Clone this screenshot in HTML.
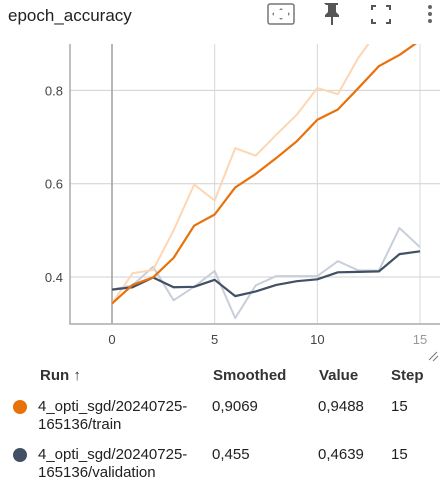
<!DOCTYPE html>
<html><head><meta charset="utf-8"><style>
body{margin:0;width:441px;height:484px;background:#fff;font-family:"Liberation Sans",sans-serif;overflow:hidden;position:relative;color:#212121}
.t{position:absolute;white-space:nowrap;font-size:15px;line-height:18px}
.h{font-weight:bold;color:#333}
</style></head><body>
<div class="t" style="left:8px;top:5px;font-size:17px;line-height:22px">epoch_accuracy</div>
<svg width="441" height="40" style="position:absolute;left:0;top:0">
<g><rect x="268" y="4" width="26" height="20" rx="2" fill="none" stroke="#777" stroke-width="1.5"/><path d="M281 8l-2 2h4zM281 20l-2-2h4zM272 14l2-2v4zM290 14l-2-2v4z" fill="#888"/></g>
<g><path d="M324 3h14v2h-2v7l3 3v2h-6v8h-2v-8h-6v-2l3-3v-7h-2z" fill="#555"/></g>
<g fill="none" stroke="#555" stroke-width="2"><path d="M372 10v-4h4M386 6h4v4M390 19v4h-4M376 23h-4v-4"/></g>
<g fill="#666"><circle cx="430" cy="7" r="2"/><circle cx="430" cy="14" r="2"/><circle cx="430" cy="21" r="2"/></g>
</svg>
<svg id="chart" width="441" height="370" style="position:absolute;left:0;top:0"></svg>
<svg width="441" height="484" style="position:absolute;left:0;top:0;pointer-events:none"><g stroke="#777" stroke-width="1"><path d="M429 360l8-8M433 361l5-5"/></g></svg>
<div class="t h" style="left:40px;top:367px">Run ↑</div>
<div class="t h" style="left:213px;top:367px">Smoothed</div>
<div class="t h" style="left:319px;top:367px">Value</div>
<div class="t h" style="left:391px;top:367px">Step</div>
<div style="position:absolute;left:13px;top:400px;width:14px;height:14px;border-radius:50%;background:#e8710a"></div>
<div class="t" style="left:38px;top:398px">4_opti_sgd/20240725-<br>165136/train</div>
<div class="t" style="left:212px;top:398px">0,9069</div>
<div class="t" style="left:318px;top:398px">0,9488</div>
<div class="t" style="left:391px;top:398px">15</div>
<div style="position:absolute;left:13px;top:448px;width:14px;height:14px;border-radius:50%;background:#425066"></div>
<div class="t" style="left:38px;top:446px">4_opti_sgd/20240725-<br>165136/validation</div>
<div class="t" style="left:212px;top:446px">0,455</div>
<div class="t" style="left:318px;top:446px">0,4639</div>
<div class="t" style="left:391px;top:446px">15</div>
<script>
const steps=[0,1,2,3,4,5,6,7,8,9,10,11,12,13,14,15];
const trainRaw=[0.343,0.408,0.415,0.50,0.598,0.564,0.676,0.66,0.705,0.748,0.805,0.792,0.87,0.93,0.97,0.9488];
const trainSmooth=[0.343,0.383,0.399,0.441,0.51,0.534,0.592,0.621,0.655,0.691,0.737,0.759,0.805,0.852,0.876,0.9069];
const valRaw=[0.373,0.382,0.422,0.35,0.379,0.413,0.312,0.382,0.402,0.402,0.402,0.434,0.414,0.414,0.505,0.4639];
const valSmooth=[0.373,0.378,0.399,0.378,0.379,0.394,0.359,0.369,0.383,0.391,0.395,0.41,0.411,0.412,0.449,0.455];
const xTicks=[0,5,10,15];
const yTicks=[0.4,0.6,0.8];
const L=70,R=440,T=44,B=324;
const xs=v=>112+v*(420-112)/15;
const ys=v=>277-(v-0.4)*466.5;
const svg=document.getElementById('chart');
const NS='http://www.w3.org/2000/svg';
function mk(tag,a){const e=document.createElementNS(NS,tag);for(const k in a)e.setAttribute(k,a[k]);svg.appendChild(e);return e;}
const clip=mk('clipPath',{id:'c'});
const cr=document.createElementNS(NS,'rect');cr.setAttribute('x',L);cr.setAttribute('y',T);cr.setAttribute('width',R-L);cr.setAttribute('height',B-T);clip.appendChild(cr);
yTicks.forEach(t=>{
 const g=mk('line',{x1:L,x2:R,y1:ys(t),y2:ys(t),stroke:'#d0d0d0','stroke-width':1});
 
 
 const tx=mk('text',{x:63,y:ys(t)+5,'text-anchor':'end','font-size':13,fill:'#444','font-family':'Liberation Sans, sans-serif'});
 tx.textContent=t.toFixed(1);
 
 
});
xTicks.forEach(t=>{
 const g=mk('line',{x1:xs(t),x2:xs(t),y1:T,y2:B,stroke:t===0?'#9e9e9e':'#d8d8d8','stroke-width':t===0?1.5:1});
 
 
 const tx=mk('text',{x:xs(t),y:344,'text-anchor':'middle','font-size':13,fill:t===15?'#999':'#444','font-family':'Liberation Sans, sans-serif'});
 tx.textContent=t;
 
 
});
const ax=mk('path',{d:`M${L} ${T}V${B}H${R}`,fill:'none',stroke:'#aaa','stroke-width':1.5});


function line(d,col,w,name){
 const p=mk('path',{d:d.map((v,i)=>(i?'L':'M')+xs(steps[i])+' '+ys(v)).join(''),fill:'none',stroke:col,'stroke-width':w,'stroke-linejoin':'round','clip-path':'url(#c)'});
 
 
}
line(valRaw,'#c8ceda',2,'validation-raw-line');
line(trainRaw,'#fdd6b4',2,'train-raw-line');
line(valSmooth,'#425066',2.2,'validation-smoothed-line');
line(trainSmooth,'#e8710a',2.2,'train-smoothed-line');
</script>
</body></html>
